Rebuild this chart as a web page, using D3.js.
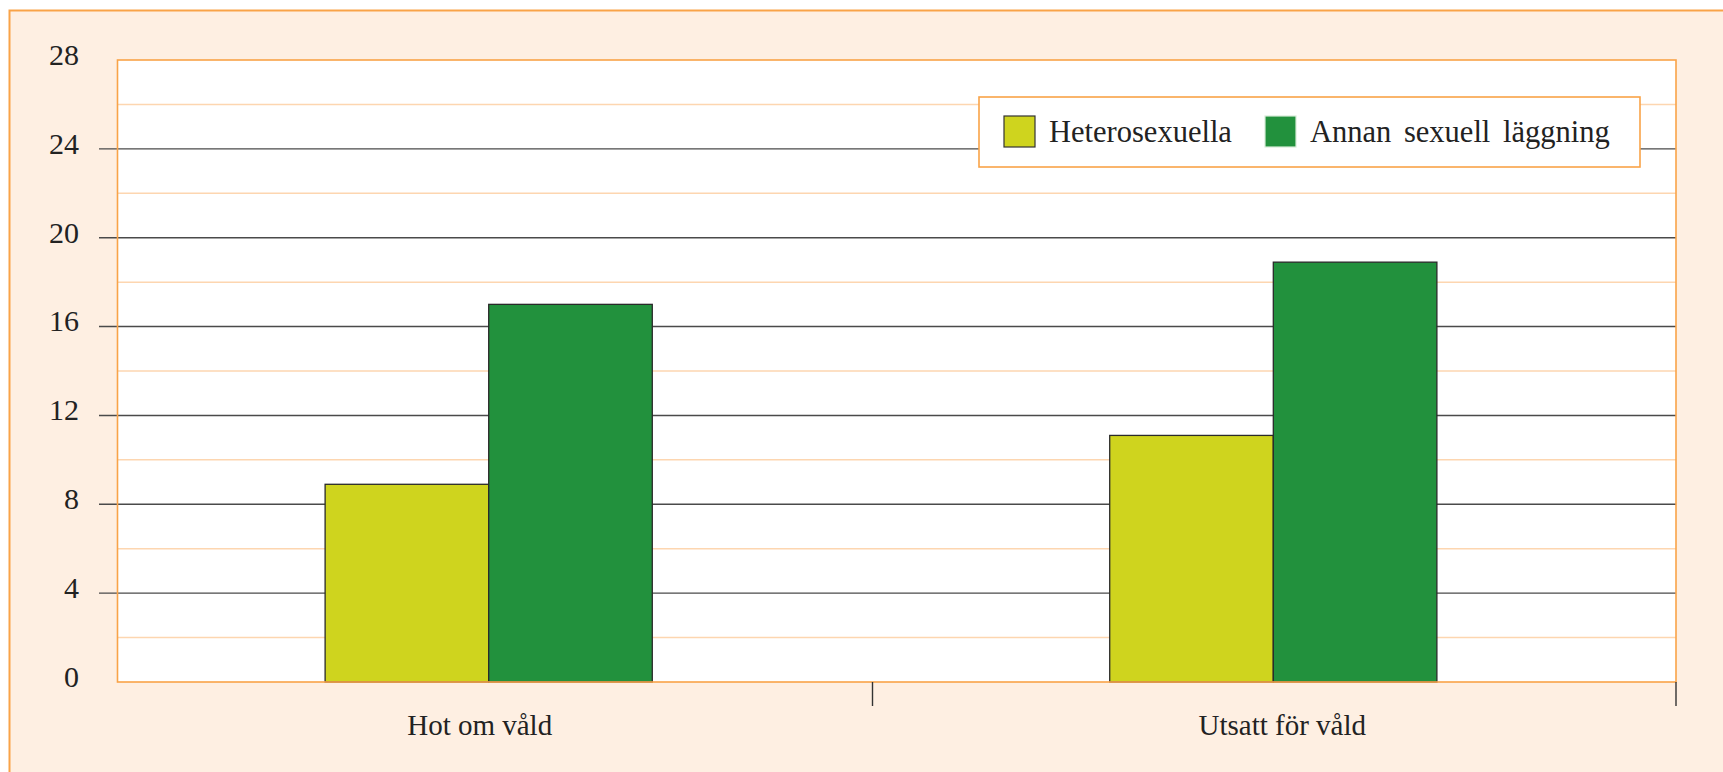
<!DOCTYPE html>
<html>
<head>
<meta charset="utf-8">
<script src="https://cdn.jsdelivr.net/npm/d3@7"></script>
<style>
  body { margin: 0; background: #fff; }
  text { font-family: "Liberation Serif", "Times New Roman", serif; fill: #222; }
</style>
</head>
<body>
<div id="plot"></div>
<script>
var w = 1723;
var h = 772;

// data
var categories = ["Hot om våld", "Utsatt för våld"];
var series = ["Heterosexuella", "Annan sexuell läggning"];
var heteroValues = [8.9, 11.1];
var annanValues = [17.0, 18.9];
var yTicks = [0, 4, 8, 12, 16, 20, 24, 28];
var yMinorTicks = [2, 6, 10, 14, 18, 22, 26];

var colors = ["#cfd41e", "#22913d"];

// plot frame
var plotLeft = 117.5;
var plotRight = 1676;
var plotTop = 60;
var plotBottom = 682;

var yScale = d3.scaleLinear().domain([0, 28]).range([plotBottom, plotTop]);

// bar groups sit a bit left of the category divisions, like the original
var xScale = d3
  .scaleBand()
  .domain(categories)
  .range([96, 1666])
  .paddingInner(0.583)
  .paddingOuter(0.292);

var xSub = d3.scaleBand().domain(series).range([0, xScale.bandwidth()]);

// category divisions for the tick marks below the axis
var xDiv = d3.scaleBand().domain(categories).range([69, plotRight]);

// labels are not quite centred under the bars in the original
var labelShift = [-9, 9];

var svg = d3.select("#plot").append("svg").attr("width", w).attr("height", h);

// outer peach panel
svg
  .append("rect")
  .attr("x", 9.5)
  .attr("y", 10.5)
  .attr("width", w + 20)
  .attr("height", h + 20)
  .attr("fill", "#feefe2")
  .attr("stroke", "#f9a348")
  .attr("stroke-width", 2);

// plot area
svg
  .append("rect")
  .attr("x", plotLeft)
  .attr("y", plotTop)
  .attr("width", plotRight - plotLeft)
  .attr("height", plotBottom - plotTop)
  .attr("fill", "#fff");

// minor grid
svg
  .selectAll(".minor")
  .data(yMinorTicks)
  .enter()
  .append("line")
  .attr("class", "minor")
  .attr("x1", plotLeft)
  .attr("x2", plotRight)
  .attr("y1", (d) => yScale(d))
  .attr("y2", (d) => yScale(d))
  .attr("stroke", "#fdd6b0")
  .attr("stroke-width", 1.5);

// major grid, running out to the left as ticks
svg
  .selectAll(".major")
  .data(yTicks.filter((d) => d > 0 && d < 28))
  .enter()
  .append("line")
  .attr("class", "major")
  .attr("x1", 99)
  .attr("x2", plotRight)
  .attr("y1", (d) => yScale(d))
  .attr("y2", (d) => yScale(d))
  .attr("stroke", "#4a4a4a")
  .attr("stroke-width", 1.4);

// y labels
svg
  .selectAll(".ylab")
  .data(yTicks)
  .enter()
  .append("text")
  .attr("class", "ylab")
  .attr("x", 79)
  .attr("y", (d) => yScale(d) - 2)
  .attr("text-anchor", "end")
  .attr("dominant-baseline", "middle")
  .attr("font-size", "30px")
  .text((d) => d);

// bars
var groups = svg
  .selectAll(".group")
  .data(categories)
  .enter()
  .append("g")
  .attr("class", "group")
  .attr("transform", (d) => "translate(" + xScale(d) + ",0)");

groups
  .selectAll("rect")
  .data((d, i) => [
    { key: series[0], value: heteroValues[i] },
    { key: series[1], value: annanValues[i] },
  ])
  .enter()
  .append("rect")
  .attr("x", (d) => xSub(d.key))
  .attr("y", (d) => yScale(d.value))
  .attr("width", xSub.bandwidth())
  .attr("height", (d) => plotBottom - yScale(d.value))
  .attr("fill", (d, i) => colors[i])
  .attr("stroke", "#2a2a2a")
  .attr("stroke-width", 1.3);

// plot border (orange)
svg
  .append("rect")
  .attr("x", plotLeft)
  .attr("y", plotTop)
  .attr("width", plotRight - plotLeft)
  .attr("height", plotBottom - plotTop)
  .attr("fill", "none")
  .attr("stroke", "#f9a348")
  .attr("stroke-width", 1.6);

// x tick marks at the category divisions
svg
  .selectAll(".xtick")
  .data(categories)
  .enter()
  .append("line")
  .attr("class", "xtick")
  .attr("x1", (d) => xDiv(d) + xDiv.bandwidth())
  .attr("x2", (d) => xDiv(d) + xDiv.bandwidth())
  .attr("y1", plotBottom)
  .attr("y2", plotBottom + 24)
  .attr("stroke", "#333")
  .attr("stroke-width", 1.4);

// x labels
svg
  .selectAll(".xlab")
  .data(categories)
  .enter()
  .append("text")
  .attr("class", "xlab")
  .attr("x", (d, i) => xScale(d) + xScale.bandwidth() / 2 + labelShift[i])
  .attr("y", 735)
  .attr("text-anchor", "middle")
  .attr("font-size", "29px")
  .text((d) => d);

// legend
var legend = svg.append("g").attr("transform", "translate(979,97)");

legend
  .append("rect")
  .attr("width", 661)
  .attr("height", 70)
  .attr("fill", "#fff")
  .attr("stroke", "#f9a348")
  .attr("stroke-width", 1.6);

var legendX = [25, 286];

legend
  .selectAll(".swatch")
  .data(series)
  .enter()
  .append("rect")
  .attr("class", "swatch")
  .attr("x", (d, i) => legendX[i])
  .attr("y", 19)
  .attr("width", 31)
  .attr("height", 31)
  .attr("fill", (d, i) => colors[i])
  .attr("stroke", (d, i) => (i === 0 ? "#333" : "#d8ecd8"))
  .attr("stroke-width", 1.2);

legend
  .selectAll(".ltext")
  .data(series)
  .enter()
  .append("text")
  .attr("class", "ltext")
  .attr("x", (d, i) => legendX[i] + 45)
  .attr("y", 45)
  .attr("font-size", "30.5px")
  .attr("word-spacing", "5px")
  .text((d) => d);
</script>
</body>
</html>
